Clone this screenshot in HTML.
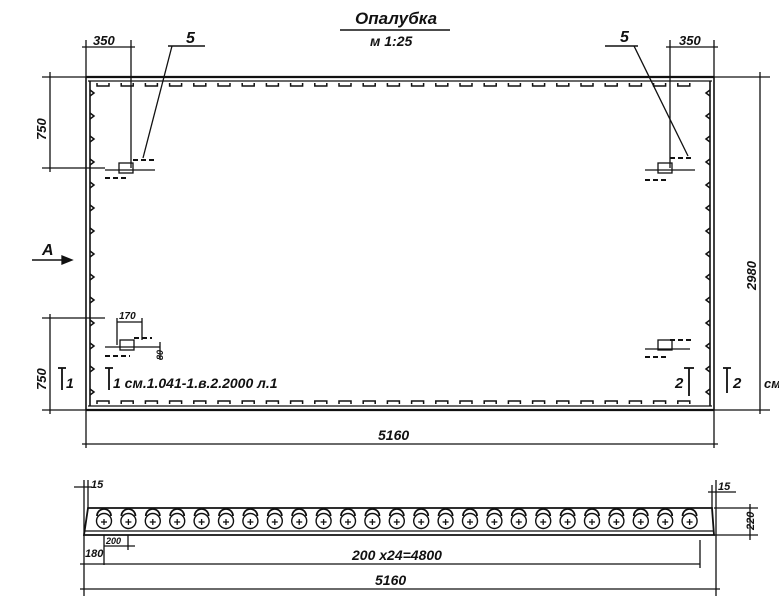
<!DOCTYPE html>
<html><head><meta charset="utf-8"><style>
html,body{margin:0;padding:0;background:#fff;}
svg{display:block;}
text{font-family:"Liberation Sans",sans-serif;font-style:italic;font-weight:bold;fill:#111;}
</style></head><body>
<svg id="s" width="779" height="596" viewBox="0 0 779 596" xmlns="http://www.w3.org/2000/svg" stroke="#111" fill="none" stroke-width="1.3">
<text x="355" y="24" font-size="17" stroke="none">Опалубка</text>
<line x1="340" y1="30" x2="450" y2="30" stroke-width="1.5"/>
<text x="370" y="46" font-size="14" stroke="none">м 1:25</text>

<line x1="86" y1="77" x2="714" y2="77" stroke-width="2.2"/>
<line x1="88" y1="81" x2="712" y2="81" stroke-width="1.2"/>
<line x1="86" y1="410" x2="714" y2="410" stroke-width="2.2"/>
<line x1="88" y1="406" x2="712" y2="406" stroke-width="1.2"/>
<line x1="86" y1="77" x2="86" y2="410" stroke-width="1.6"/>
<line x1="90" y1="81" x2="90" y2="406" stroke-width="1.6"/>
<line x1="714" y1="77" x2="714" y2="410" stroke-width="1.6"/>
<line x1="710" y1="81" x2="710" y2="406" stroke-width="1.6"/>
<g id="dec" stroke-width="1.5"></g>

<line x1="86" y1="40" x2="86" y2="77"/>
<line x1="131" y1="40" x2="131" y2="168"/>
<line x1="82" y1="47" x2="135" y2="47"/>
<text x="93" y="45" font-size="13" stroke="none">350</text>
<line x1="168" y1="46" x2="205" y2="46" stroke-width="1.5"/>
<text x="186" y="43" font-size="16" stroke="none">5</text>
<line x1="172" y1="46" x2="143" y2="158"/>
<rect x="119" y="163" width="14" height="10"/>
<line x1="105" y1="170" x2="155" y2="170"/>
<line x1="133" y1="160" x2="155" y2="160" stroke-dasharray="5,3" stroke-width="2"/>
<line x1="105" y1="178" x2="128" y2="178" stroke-dasharray="5,3" stroke-width="2"/>

<line x1="714" y1="40" x2="714" y2="77"/>
<line x1="670" y1="40" x2="670" y2="168"/>
<line x1="666" y1="47" x2="718" y2="47"/>
<text x="679" y="45" font-size="13" stroke="none">350</text>
<line x1="605" y1="46" x2="638" y2="46" stroke-width="1.5"/>
<text x="620" y="42" font-size="16" stroke="none">5</text>
<line x1="634" y1="46" x2="688" y2="156"/>
<rect x="658" y="163" width="14" height="10"/>
<line x1="645" y1="170" x2="695" y2="170"/>
<line x1="670" y1="158" x2="692" y2="158" stroke-dasharray="5,3" stroke-width="2"/>
<line x1="645" y1="180" x2="668" y2="180" stroke-dasharray="5,3" stroke-width="2"/>

<line x1="42" y1="77" x2="86" y2="77"/>
<line x1="42" y1="168" x2="105" y2="168"/>
<line x1="50" y1="72" x2="50" y2="172"/>
<text transform="translate(46,140) rotate(-90)" font-size="13" stroke="none">750</text>
<line x1="42" y1="318" x2="105" y2="318"/>
<line x1="42" y1="410" x2="86" y2="410"/>
<line x1="50" y1="314" x2="50" y2="414"/>
<text transform="translate(46,390) rotate(-90)" font-size="13" stroke="none">750</text>

<text x="42" y="255" font-size="16" stroke="none">А</text>
<line x1="32" y1="260" x2="70" y2="260" stroke-width="1.5"/>
<path d="M62 256 L72 260 L62 264 Z" fill="#111"/>

<rect x="120" y="340" width="14" height="10"/>
<line x1="105" y1="347" x2="160" y2="347"/>
<line x1="117" y1="322" x2="142" y2="322"/>
<text x="119" y="319" font-size="10" stroke="none">170</text>
<line x1="117" y1="318" x2="117" y2="345"/>
<line x1="142" y1="318" x2="142" y2="340"/>
<line x1="160" y1="342" x2="160" y2="360"/>
<text transform="translate(163,360) rotate(-90)" font-size="9" stroke="none">80</text>
<line x1="105" y1="356" x2="130" y2="356" stroke-dasharray="5,3" stroke-width="2"/>
<line x1="134" y1="338" x2="152" y2="338" stroke-dasharray="5,3" stroke-width="2"/>
<line x1="58" y1="368" x2="66" y2="368" stroke-width="1.8"/>
<line x1="62" y1="368" x2="62" y2="390" stroke-width="1.8"/>
<text x="66" y="388" font-size="14" stroke="none">1</text>
<line x1="105" y1="368" x2="113" y2="368" stroke-width="1.8"/>
<line x1="109" y1="368" x2="109" y2="390" stroke-width="1.8"/>
<text x="113" y="388" font-size="14" stroke="none">1 см.1.041-1.в.2.2000 л.1</text>

<rect x="658" y="340" width="14" height="10"/>
<line x1="645" y1="349" x2="690" y2="349"/>
<line x1="670" y1="340" x2="692" y2="340" stroke-dasharray="5,3" stroke-width="2"/>
<line x1="645" y1="357" x2="668" y2="357" stroke-dasharray="5,3" stroke-width="2"/>
<text x="675" y="388" font-size="15" stroke="none">2</text>
<line x1="684" y1="368" x2="694" y2="368" stroke-width="1.8"/>
<line x1="689" y1="368" x2="689" y2="396" stroke-width="1.8"/>
<line x1="723" y1="368" x2="731" y2="368" stroke-width="1.8"/>
<line x1="727" y1="368" x2="727" y2="393" stroke-width="1.8"/>
<text x="733" y="388" font-size="15" stroke="none">2</text>
<text x="764" y="388" font-size="13" stroke="none">см</text>

<line x1="714" y1="77" x2="770" y2="77"/>
<line x1="714" y1="410" x2="770" y2="410"/>
<line x1="760" y1="72" x2="760" y2="414"/>
<text transform="translate(756,290) rotate(-90)" font-size="13" stroke="none">2980</text>

<line x1="86" y1="410" x2="86" y2="448"/>
<line x1="714" y1="410" x2="714" y2="448"/>
<line x1="82" y1="444" x2="718" y2="444"/>
<text x="378" y="440" font-size="14" stroke="none">5160</text>

<path d="M88 508 L712 508 L714 535 L84 535 Z" stroke-width="1.8"/>
<line x1="84" y1="531" x2="714" y2="531"/>
<g id="holes"></g>
<line x1="84" y1="480" x2="84" y2="596"/>
<line x1="88" y1="480" x2="88" y2="508"/>
<line x1="74" y1="487" x2="92" y2="487"/>
<text x="91" y="488" font-size="11" stroke="none">15</text>
<line x1="712" y1="485" x2="712" y2="508"/>
<line x1="716" y1="480" x2="716" y2="596"/>
<line x1="708" y1="492" x2="736" y2="492"/>
<text x="718" y="490" font-size="11" stroke="none">15</text>
<line x1="714" y1="508" x2="758" y2="508"/>
<line x1="714" y1="535" x2="758" y2="535"/>
<line x1="750" y1="504" x2="750" y2="540"/>
<text transform="translate(754,530) rotate(-90)" font-size="11" stroke="none">220</text>
<line x1="104" y1="535" x2="104" y2="565"/>
<line x1="128" y1="535" x2="128" y2="550"/>
<line x1="104" y1="546" x2="135" y2="546"/>
<text x="106" y="544" font-size="9" stroke="none">200</text>
<text x="85" y="557" font-size="11" stroke="none">180</text>
<line x1="80" y1="564" x2="700" y2="564"/>
<line x1="700" y1="540" x2="700" y2="568"/>
<text x="352" y="560" font-size="14" stroke="none">200  х24=4800</text>
<line x1="80" y1="589" x2="720" y2="589"/>
<text x="375" y="585" font-size="14" stroke="none">5160</text>
</svg>
<script>
var ns="http://www.w3.org/2000/svg";
function el(p,t,a){var e=document.createElementNS(ns,t);for(var k in a)e.setAttribute(k,a[k]);p.appendChild(e);return e;}
var d=document.getElementById("dec");
for(var x=97;x<700;x+=24.2){
 el(d,"path",{d:"M"+x+" 83 v3 h12 v-3"});
 el(d,"path",{d:"M"+x+" 404 v-3 h12 v3"});
}
for(var y=90;y<400;y+=23){
 el(d,"path",{d:"M90 "+y+" l4 3 l-4 3"});
 el(d,"path",{d:"M710 "+y+" l-4 3 l4 3"});
}
var h=document.getElementById("holes");
for(var i=0;i<25;i++){
 var cx=104+i*24.4;
 el(h,"circle",{cx:cx,cy:521,r:7.5,"stroke-width":1.4});
 el(h,"path",{d:"M"+(cx-7)+" 516 A7 7 0 0 1 "+(cx+7)+" 516","stroke-width":1.8});
 el(h,"line",{x1:cx-3,y1:522,x2:cx+3,y2:522});
 el(h,"line",{x1:cx,y1:519,x2:cx,y2:525});
}
</script>
</body></html>
